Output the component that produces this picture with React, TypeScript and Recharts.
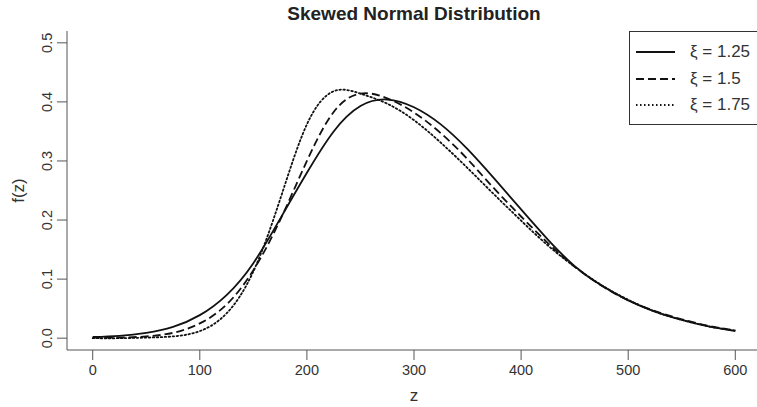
import { LineChart, Line, XAxis, YAxis, Legend } from 'recharts'

// z grid and density readings for each xi
const zValues = [0, 25, 50, 75, 100, 125, 150, 175, 200, 225, 250, 275, 300, 325, 350, 375, 400, 425, 450, 475, 500, 525, 550, 575, 600]
const xi125 = [0.002, 0.004, 0.009, 0.019, 0.039, 0.073, 0.127, 0.202, 0.28, 0.35, 0.393, 0.404, 0.391, 0.362, 0.32, 0.27, 0.218, 0.167, 0.122, 0.089, 0.064, 0.045, 0.031, 0.02, 0.012]
const xi15 = [0.001, 0.001, 0.003, 0.009, 0.025, 0.057, 0.115, 0.2, 0.3, 0.383, 0.414, 0.406, 0.382, 0.347, 0.303, 0.253, 0.206, 0.161, 0.121, 0.089, 0.064, 0.046, 0.032, 0.021, 0.013]
const xi175 = [0, 0, 0.001, 0.003, 0.012, 0.042, 0.113, 0.235, 0.362, 0.418, 0.414, 0.397, 0.369, 0.331, 0.288, 0.243, 0.199, 0.157, 0.121, 0.09, 0.065, 0.045, 0.031, 0.02, 0.013]

const seriesNames = ['ξ = 1.25', 'ξ = 1.5', 'ξ = 1.75']
const xTicks = [0, 100, 200, 300, 400, 500, 600]
const yTicks = [0, 0.1, 0.2, 0.3, 0.4, 0.5]

const data = zValues.map((z, i) => ({ z, a: xi125[i], b: xi15[i], c: xi175[i] }))

const styles = [
  { key: 'a', dash: undefined },
  { key: 'b', dash: '8 4' },
  { key: 'c', dash: '1.5 2.5' },
]

const font = '"Liberation Sans", Arial, sans-serif'

const YTick = ({ x, y, payload }: any) => (
  <text x={x} y={y} transform={`rotate(-90 ${x} ${y})`} textAnchor="middle" fill="#333" fontSize={14.5} fontFamily={font}>
    {payload.value.toFixed(1)}
  </text>
)

const YLabel = ({ viewBox }: any) => {
  const cx = 24
  const cy = viewBox.y + viewBox.height / 2
  return (
    <text x={cx} y={cy} transform={`rotate(-90 ${cx} ${cy})`} textAnchor="middle" fill="#333" fontSize={17} fontFamily={font}>
      f(z)
    </text>
  )
}

const XLabel = ({ viewBox }: any) => (
  <text x={viewBox.x + viewBox.width / 2} y={401} textAnchor="middle" fill="#333" fontSize={17} fontFamily={font}>
    z
  </text>
)

const LegendBox = () => (
  <div style={{ border: '1px solid #333', width: 150, height: 92, background: '#fff', fontFamily: font, fontSize: 17, color: '#333' }}>
    {seriesNames.map((name, i) => (
      <div key={name} style={{ display: 'flex', alignItems: 'center', height: 26.5, marginTop: i === 0 ? 7 : 0 }}>
        <svg width={55} height={10} style={{ marginLeft: 5 }}>
          <line x1={1} y1={5} x2={40} y2={5} stroke="#111" strokeWidth={1.8} strokeDasharray={styles[i].dash} />
        </svg>
        <span>{name}</span>
      </div>
    ))}
  </div>
)

export default function App() {
  return (
    <div style={{ position: 'fixed', left: 0, top: 0, width: 757, height: 407, overflow: 'hidden', background: '#fff' }}>
      <div style={{ position: 'absolute', left: 0, width: 828, top: 3, textAlign: 'center', fontFamily: font, fontWeight: 'bold', fontSize: 19, color: '#222' }}>
        Skewed Normal Distribution
      </div>
      <LineChart width={780} height={407} data={data} margin={{ top: 31, right: 19, bottom: 0, left: 0 }}>
        <XAxis
          dataKey="z"
          type="number"
          domain={[-24, 624]}
          ticks={xTicks}
          allowDataOverflow
          height={57}
          tickSize={10}
          tickMargin={5}
          stroke="#555"
          tick={{ fill: '#333', fontSize: 14.5, fontFamily: font }}
          label={<XLabel />}
        />
        <XAxis xAxisId="top" orientation="top" type="number" dataKey="z" domain={[-24, 624]} height={0} tick={false} tickLine={false} stroke="#555" />
        <YAxis
          type="number"
          domain={[-0.02, 0.52]}
          ticks={yTicks}
          allowDataOverflow
          width={67}
          tickSize={10}
          tickMargin={5}
          stroke="#555"
          tick={<YTick />}
          label={<YLabel />}
        />
        {styles.map((s) => (
          <Line
            key={s.key}
            dataKey={s.key}
            type="natural"
            dot={false}
            stroke="#111"
            strokeWidth={1.8}
            strokeDasharray={s.dash}
            strokeLinecap={s.dash === '1.5 2.5' ? 'round' : 'butt'}
            isAnimationActive={false}
          />
        ))}
        <Legend
          layout="vertical"
          align="center"
          verticalAlign="middle"
          content={<LegendBox />}
          wrapperStyle={{ position: 'absolute', left: 629, top: 31, width: 150 }}
        />
      </LineChart>
    </div>
  )
}
